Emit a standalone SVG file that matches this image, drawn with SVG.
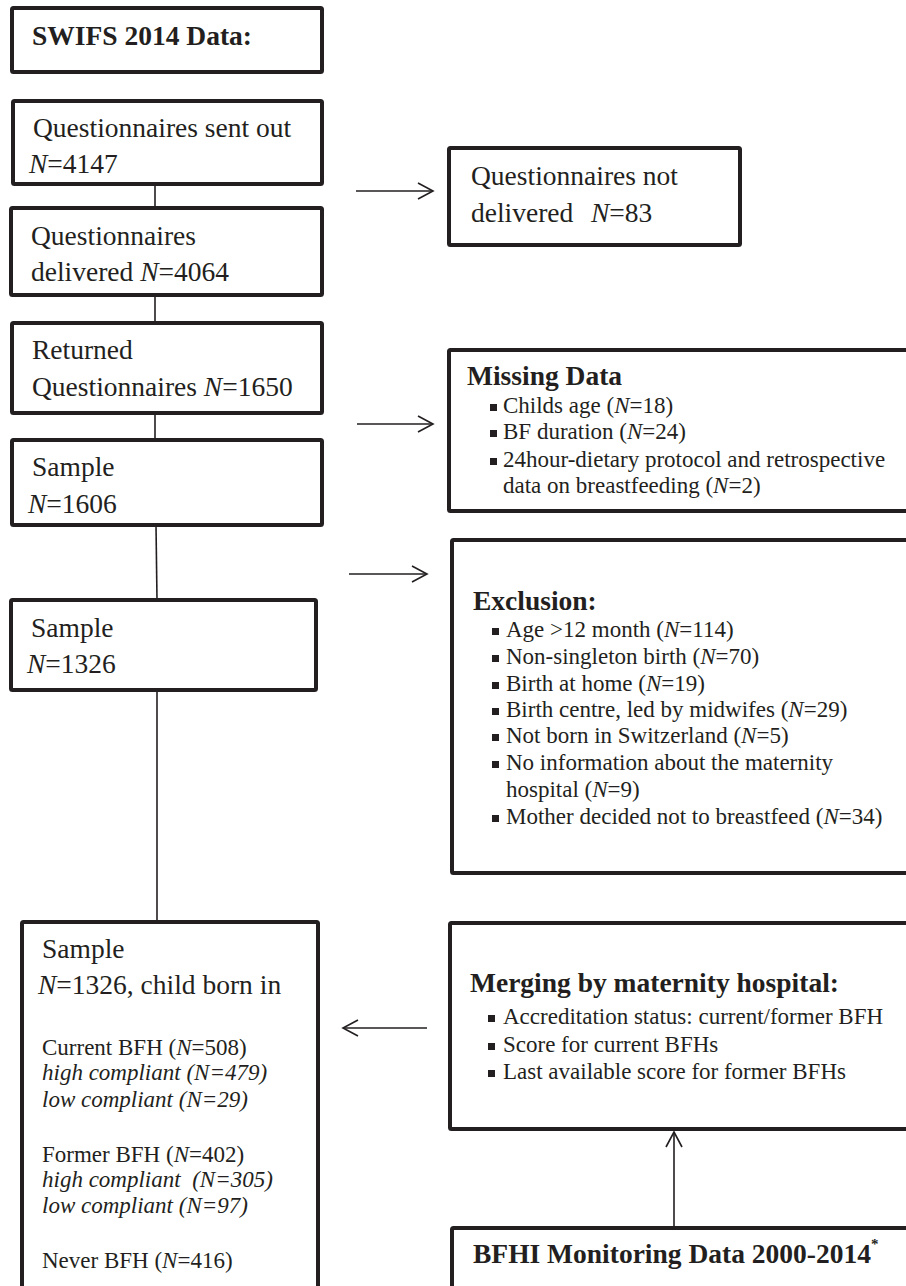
<svg xmlns="http://www.w3.org/2000/svg" width="906" height="1286" viewBox="0 0 906 1286">
<style>
.box{fill:#fff;stroke:#231f20;stroke-width:4}
.t{font-family:"Liberation Serif","Times New Roman",serif;font-size:27.5px;fill:#231f20}
.b{font-family:"Liberation Serif","Times New Roman",serif;font-size:27.5px;font-weight:bold;fill:#231f20}
.s{font-family:"Liberation Serif","Times New Roman",serif;font-size:23px;fill:#231f20}
.i{font-style:italic}
.c{stroke:#231f20;stroke-width:1.6;fill:none}
.bl{fill:#231f20}
</style>
<defs>
<marker id="ah" markerUnits="userSpaceOnUse" markerWidth="20" markerHeight="20" viewBox="-17 -10 20 20" refX="0" refY="0" orient="auto">
<path d="M-15,-8 L0,0 L-15,8" fill="none" stroke="#231f20" stroke-width="1.6"/>
</marker>
</defs>
<rect width="906" height="1286" fill="#fff"/>
<g id="connectors">
<line class="c" x1="155" y1="185" x2="155" y2="208"/>
<line class="c" x1="155" y1="295" x2="155" y2="323"/>
<line class="c" x1="155" y1="413" x2="155" y2="440"/>
<line class="c" x1="156" y1="525" x2="157" y2="600"/>
<line class="c" x1="157" y1="690" x2="157" y2="922"/>
<line class="c" x1="356" y1="191" x2="433" y2="191" marker-end="url(#ah)"/>
<line class="c" x1="357" y1="424" x2="433" y2="424" marker-end="url(#ah)"/>
<line class="c" x1="349" y1="574" x2="427" y2="574" marker-end="url(#ah)"/>
<line class="c" x1="427" y1="1028" x2="343" y2="1028" marker-end="url(#ah)"/>
<line class="c" x1="674" y1="1227" x2="674" y2="1132" marker-end="url(#ah)"/>
</g>
<g id="swifs">
<rect class="box" x="12" y="8" width="310" height="64" rx="1.5"/>
<text class="b" x="32" y="45">SWIFS 2014 Data:</text>
</g>
<g id="sent">
<rect class="box" x="13" y="101" width="309" height="83" rx="1.5"/>
<text class="t" x="33" y="137">Questionnaires sent out</text>
<text class="t" x="29" y="173"><tspan class="i">N</tspan>=4147</text>
</g>
<g id="delivered">
<rect class="box" x="11" y="208" width="311" height="87" rx="1.5"/>
<text class="t" x="31" y="245">Questionnaires</text>
<text class="t" x="31" y="281">delivered <tspan class="i">N</tspan>=4064</text>
</g>
<g id="returned">
<rect class="box" x="12" y="323" width="310" height="90" rx="1.5"/>
<text class="t" x="32" y="359">Returned</text>
<text class="t" x="32" y="396">Questionnaires <tspan class="i">N</tspan>=1650</text>
</g>
<g id="sample1606">
<rect class="box" x="12" y="440" width="310" height="85" rx="1.5"/>
<text class="t" x="32" y="476">Sample</text>
<text class="t" x="28" y="513"><tspan class="i">N</tspan>=1606</text>
</g>
<g id="sample1326">
<rect class="box" x="11" y="600" width="305" height="90" rx="1.5"/>
<text class="t" x="31" y="637">Sample</text>
<text class="t" x="27" y="673"><tspan class="i">N</tspan>=1326</text>
</g>
<g id="sampleFinal">
<rect class="box" x="22" y="922" width="296" height="400" rx="1.5"/>
<text class="t" x="42" y="958">Sample</text>
<text class="t" x="38" y="994"><tspan class="i">N</tspan>=1326, child born in</text>
<text class="s" x="42" y="1055">Current BFH (<tspan class="i">N</tspan>=508)</text>
<text class="s i" x="42" y="1080">high compliant (N=479)</text>
<text class="s i" x="42" y="1107">low compliant (N=29)</text>
<text class="s" x="42" y="1162">Former BFH (<tspan class="i">N</tspan>=402)</text>
<text class="s i" x="42" y="1187" xml:space="preserve">high compliant  (N=305)</text>
<text class="s i" x="42" y="1213">low compliant (N=97)</text>
<text class="s" x="42" y="1268">Never BFH (<tspan class="i">N</tspan>=416)</text>
</g>
<g id="notDelivered">
<rect class="box" x="449" y="148" width="291" height="97" rx="1.5"/>
<text class="t" x="471" y="185">Questionnaires not</text>
<text class="t" x="471" y="222">delivered<tspan x="591" class="i">N</tspan>=83</text>
</g>
<g id="missing">
<rect class="box" x="449" y="350" width="470" height="161" rx="1.5"/>
<text class="b" x="467" y="385">Missing Data</text>
<rect class="bl" x="490" y="404" width="7" height="7"/>
<text class="s" x="503" y="413">Childs age (<tspan class="i">N</tspan>=18)</text>
<rect class="bl" x="490" y="430" width="7" height="7"/>
<text class="s" x="503" y="439">BF duration (<tspan class="i">N</tspan>=24)</text>
<rect class="bl" x="490" y="458" width="7" height="7"/>
<text class="s" x="503" y="467">24hour-dietary protocol and retrospective</text>
<text class="s" x="503" y="493">data on breastfeeding (<tspan class="i">N</tspan>=2)</text>
</g>
<g id="exclusion">
<rect class="box" x="452" y="540" width="470" height="333" rx="1.5"/>
<text class="b" x="473" y="610">Exclusion:</text>
<rect class="bl" x="492" y="628" width="7" height="7"/>
<text class="s" x="506" y="637">Age &gt;12 month (<tspan class="i">N</tspan>=114)</text>
<rect class="bl" x="492" y="655" width="7" height="7"/>
<text class="s" x="506" y="664">Non-singleton birth (<tspan class="i">N</tspan>=70)</text>
<rect class="bl" x="492" y="682" width="7" height="7"/>
<text class="s" x="506" y="691">Birth at home (<tspan class="i">N</tspan>=19)</text>
<rect class="bl" x="492" y="708" width="7" height="7"/>
<text class="s" x="506" y="717">Birth centre, led by midwifes (<tspan class="i">N</tspan>=29)</text>
<rect class="bl" x="492" y="734" width="7" height="7"/>
<text class="s" x="506" y="743">Not born in Switzerland (<tspan class="i">N</tspan>=5)</text>
<rect class="bl" x="492" y="761" width="7" height="7"/>
<text class="s" x="506" y="770">No information about the maternity</text>
<text class="s" x="506" y="797">hospital (<tspan class="i">N</tspan>=9)</text>
<rect class="bl" x="492" y="815" width="7" height="7"/>
<text class="s" x="506" y="824">Mother decided not to breastfeed (<tspan class="i">N</tspan>=34)</text>
</g>
<g id="merging">
<rect class="box" x="450" y="923" width="470" height="206" rx="1.5"/>
<text class="b" x="470" y="992">Merging by maternity hospital:</text>
<rect class="bl" x="488" y="1015" width="7" height="7"/>
<text class="s" x="503" y="1024">Accreditation status: current/former BFH</text>
<rect class="bl" x="488" y="1043" width="7" height="7"/>
<text class="s" x="503" y="1052">Score for current BFHs</text>
<rect class="bl" x="488" y="1070" width="7" height="7"/>
<text class="s" x="503" y="1079">Last available score for former BFHs</text>
</g>
<g id="bfhi">
<rect class="box" x="452" y="1228" width="470" height="100" rx="1.5"/>
<text class="b" x="473" y="1263">BFHI Monitoring Data 2000-2014<tspan font-size="15" dy="-14">*</tspan></text>
</g>
</svg>
